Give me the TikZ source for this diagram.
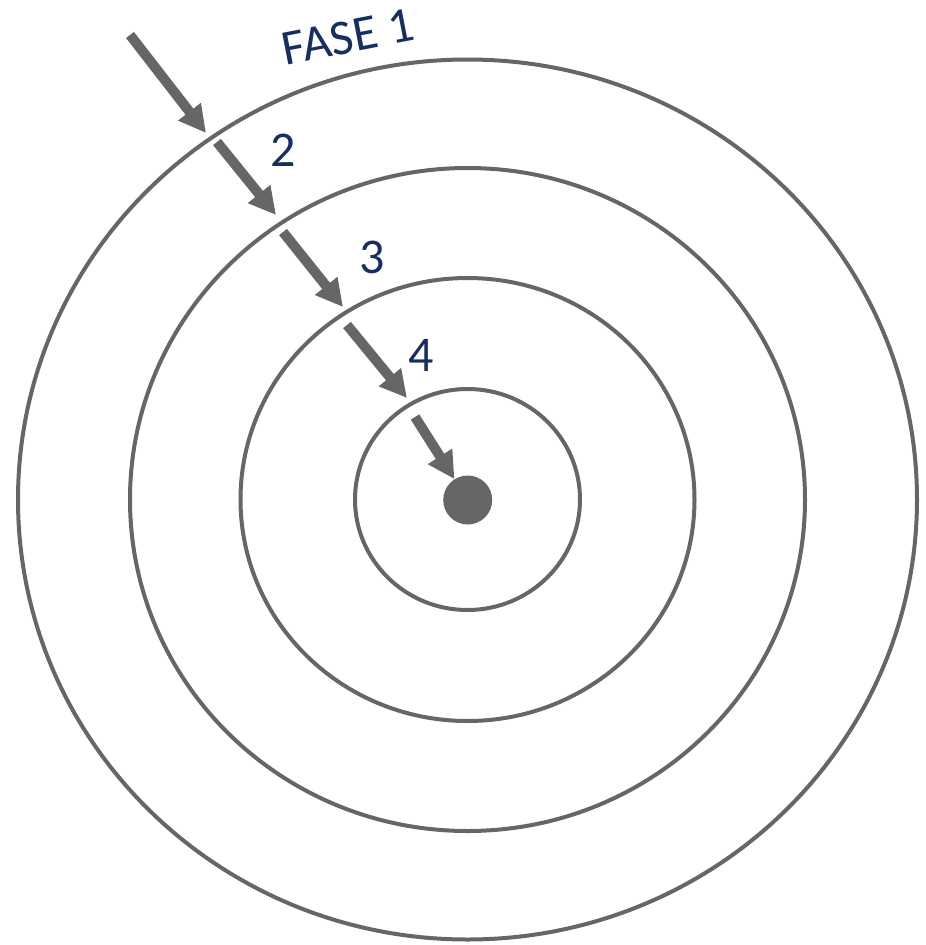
\documentclass[tikz,border=0pt]{standalone}
\usepackage{fontspec}
\setmainfont{Carlito}
\usetikzlibrary{arrows.meta}
\definecolor{ring}{RGB}{102,102,102}
\definecolor{navy}{RGB}{24,46,96}
\tikzset{
  ringline/.style={draw=ring,line width=4pt},
  flowarrow/.style={draw=ring,line width=10pt,-{Triangle[width=27pt,length=27pt]}},
  phase/.style={text=navy,font=\fontsize{50}{60}\selectfont,inner sep=0pt},
}
\begin{document}
\begin{tikzpicture}[x=1pt,y=-1pt]
\useasboundingbox (0,0) rectangle (926,945);
\coordinate (c) at (467.5,499.5);
\draw[ringline] (c) ellipse [x radius=449.5,y radius=440];
\draw[ringline] (c) ellipse [x radius=337.5,y radius=331.5];
\draw[ringline] (c) ellipse [x radius=227,y radius=221.5];
\draw[ringline] (c) ellipse [x radius=112.5,y radius=110.5];
\node[circle,fill=ring,minimum size=49pt,inner sep=0pt] (dot) at (467.7,500) {};
\coordinate (a1s) at (130,35);  \coordinate (a1e) at (206,133);
\coordinate (a2s) at (217,142); \coordinate (a2e) at (276,215);
\coordinate (a3s) at (283,232); \coordinate (a3e) at (343,307);
\coordinate (a4s) at (347,325); \coordinate (a4e) at (407,398);
\coordinate (a5s) at (415,417); \coordinate (a5e) at (458,478);
\draw[flowarrow] (a1s) -- (a1e);
\draw[flowarrow] (a2s) -- (a2e);
\draw[flowarrow] (a3s) -- (a3e);
\draw[flowarrow] (a4s) -- (a4e);
\draw[flowarrow] (a5s) -- (dot);
\node[phase,rotate=11] (f1) at (348,37) {FASE 1};
\node[phase] (f2) at (283,150) {2};
\node[phase] (f3) at (372,257) {3};
\node[phase] (f4) at (421,355) {4};
\end{tikzpicture}
\end{document}
